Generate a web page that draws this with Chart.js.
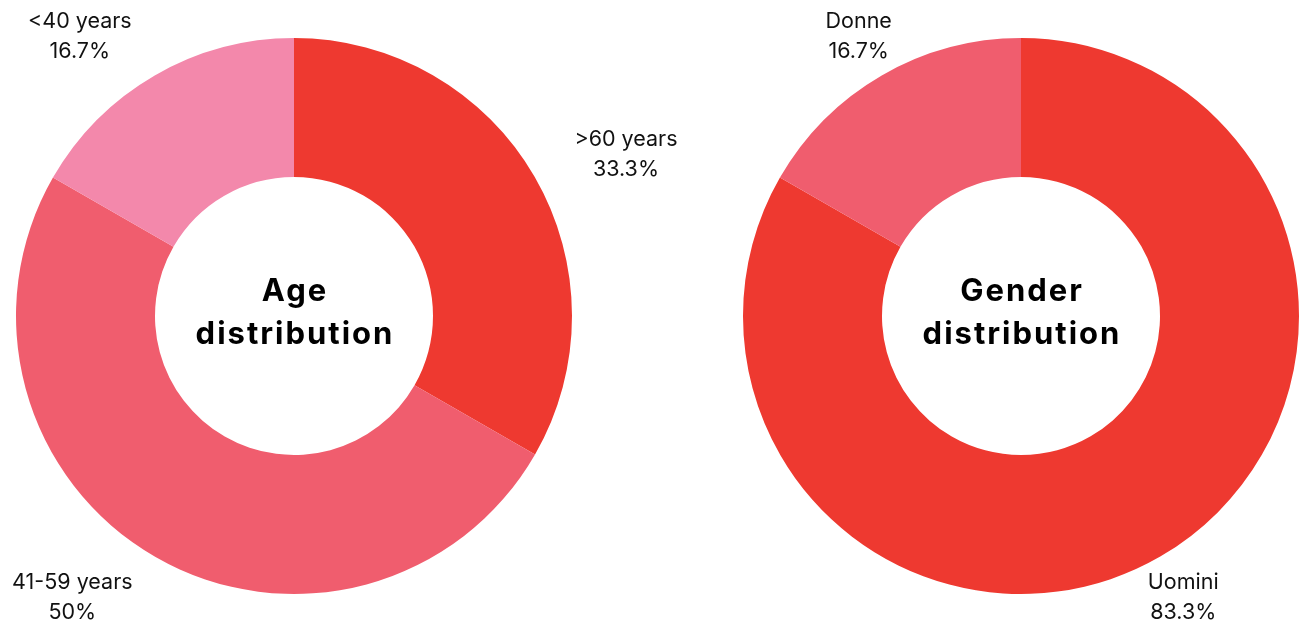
<!DOCTYPE html>
<html>
<head>
<meta charset="utf-8">
<script src="https://cdn.jsdelivr.net/npm/chart.js@4/dist/chart.umd.min.js"></script>
<style>
  html, body { margin: 0; padding: 0; background: #ffffff; }
  #wrap { position: relative; width: 1299px; height: 622px; }
  .box { position: absolute; top: 0; height: 622px; }
  #b1 { left: 0; width: 700px; }
  #b2 { left: 700px; width: 599px; }
</style>
</head>
<body>
<div id="wrap">
  <div class="box" id="b1"><canvas id="c1"></canvas></div>
  <div class="box" id="b2"><canvas id="c2"></canvas></div>
</div>
<script>
// ---- Data ----
const ageCategories = ['>60 years', '41-59 years', '<40 years'];
const agePercent = [33.3, 50, 16.7];
const ageColors = ['#EE3930', '#F05D6E', '#F388AB'];
const ageTitle = ['Age', 'distribution'];

const genderCategories = ['Uomini', 'Donne'];
const genderPercent = [83.3, 16.7];
const genderColors = ['#EE3930', '#F05D6E'];
const genderTitle = ['Gender', 'distribution'];

const LABEL_FONT = '21.5px Inter, "Noto Sans", sans-serif';
const TITLE_FONT = '700 31px Inter, "Noto Sans", sans-serif';

const outsideLabels = {
  id: 'outsideLabels',
  afterDatasetsDraw(chart, args, opts) {
    const ctx = chart.ctx;
    const meta = chart.getDatasetMeta(0);
    const data = chart.data.datasets[0].data;
    ctx.save();
    ctx.font = LABEL_FONT;
    ctx.fillStyle = '#111111';
    ctx.textBaseline = 'middle';
    meta.data.forEach((arc, i) => {
      const p = arc.getProps(['x', 'y', 'startAngle', 'endAngle', 'outerRadius'], true);
      const mid = (p.startAngle + p.endAngle) / 2;
      const r = p.outerRadius + opts.offset;
      const ax = p.x + Math.cos(mid) * r;
      const ay = p.y + Math.sin(mid) * r;
      const lines = [chart.data.labels[i], data[i] + '%'];
      const w = Math.max(...lines.map(l => ctx.measureText(l).width));
      let cx = ax;
      if (opts.mode === 'edge') {
        cx = ax > p.x ? ax + w / 2 : ax - w / 2;
      }
      const lh = 30;
      ctx.textAlign = 'center';
      lines.forEach((l, k) => {
        ctx.fillText(l, cx, ay + 1 + (k - (lines.length - 1) / 2) * lh);
      });
    });
    ctx.restore();
  }
};

const centerText = {
  id: 'centerText',
  afterDraw(chart, args, opts) {
    const ctx = chart.ctx;
    const a = chart.chartArea;
    const cx = (a.left + a.right) / 2;
    const cy = (a.top + a.bottom) / 2;
    ctx.save();
    ctx.font = TITLE_FONT;
    try { ctx.letterSpacing = '2px'; } catch (e) {}
    ctx.fillStyle = '#000000';
    ctx.textAlign = 'center';
    ctx.textBaseline = 'middle';
    ctx.fillText(opts.lines[0], cx + 1, cy - 24);
    ctx.fillText(opts.lines[1], cx + 1, cy + 19);
    ctx.restore();
  }
};

function makeChart(id, labels, values, colors, title, padding, mode) {
  return new Chart(document.getElementById(id), {
    type: 'doughnut',
    data: {
      labels: labels,
      datasets: [{ data: values, backgroundColor: colors, borderWidth: 0, hoverOffset: 0 }]
    },
    options: {
      responsive: true,
      maintainAspectRatio: false,
      animation: false,
      cutout: '50%',
      layout: { padding: padding },
      plugins: {
        legend: { display: false },
        tooltip: { enabled: false },
        outsideLabels: { offset: 46, mode: mode },
        centerText: { lines: title }
      }
    },
    plugins: [outsideLabels, centerText]
  });
}

makeChart('c1', ageCategories, agePercent, ageColors, ageTitle,
  { left: 16, right: 128, top: 38, bottom: 28 }, 'edge');
makeChart('c2', genderCategories, genderPercent, genderColors, genderTitle,
  { left: 43, right: 0, top: 38, bottom: 28 }, 'center');
</script>
</body>
</html>
